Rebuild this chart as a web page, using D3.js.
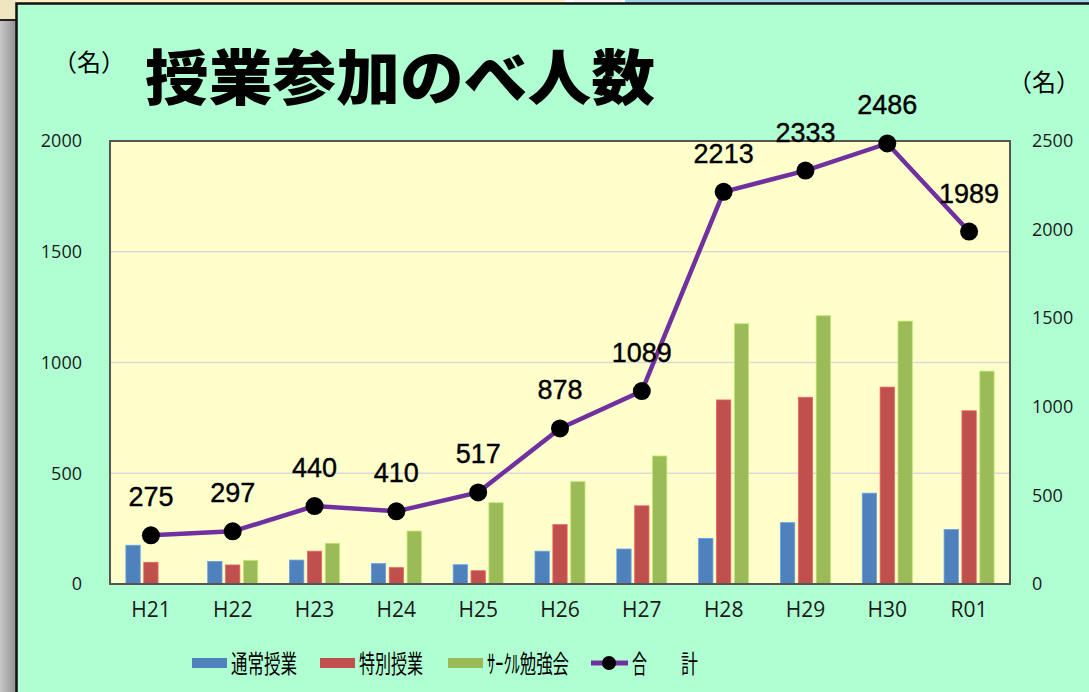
<!DOCTYPE html>
<html>
<head>
<meta charset="utf-8">
<script src="https://cdn.jsdelivr.net/npm/d3@7"></script>
<style>
  html, body { margin: 0; padding: 0; background: #fff; overflow: hidden; }
  svg { display: block; }
</style>
</head>
<body>
<div id="chart"></div>
<script>
// 年度
const years = ["H21", "H22", "H23", "H24", "H25", "H26", "H27", "H28", "H29", "H30", "R01"];
// 棒グラフ（左軸）
const regular = [175, 102, 108, 92, 87, 148, 158, 206, 277, 410, 246];
const special = [98, 86, 148, 74, 60, 268, 353, 831, 843, 889, 782];
const circle = [0, 107, 184, 239, 367, 462, 578, 1175, 1211, 1187, 961];
// 合計（右軸）
const totals = [275, 297, 440, 410, 517, 878, 1089, 2213, 2333, 2486, 1989];
const leftTicks = [0, 500, 1000, 1500, 2000];
const rightTicks = [0, 500, 1000, 1500, 2000, 2500];

const seriesNames = ["通常授業", "特別授業", "ｻｰｸﾙ勉強会"];
const seriesColors = ["#4F81BD", "#C0504D", "#9BBB59"];
const lineColor = "#7030A0";

const width = 1089, height = 692;
const plot = { left: 110, right: 1010, top: 141, bottom: 584 };

const svg = d3.select("#chart").append("svg")
    .attr("width", width)
    .attr("height", height);

// 背景（周りのウィンドウ）
svg.append("rect").attr("x", 0).attr("y", 0).attr("width", 565).attr("height", 3).attr("fill", "#FFF2C0");
svg.append("rect").attr("x", 574).attr("y", 0).attr("width", 48).attr("height", 3).attr("fill", "#F4F4F4");
svg.append("rect").attr("x", 625).attr("y", 0).attr("width", 464).attr("height", 3).attr("fill", "#9ED6EE");
const grad = svg.append("defs").append("linearGradient").attr("id", "shade");
grad.append("stop").attr("offset", "0%").attr("stop-color", "#C8C8C8");
grad.append("stop").attr("offset", "100%").attr("stop-color", "#909090");
svg.append("rect").attr("x", 0).attr("y", 20).attr("width", 16).attr("height", height).attr("fill", "url(#shade)");
svg.append("rect").attr("x", 0).attr("y", 0).attr("width", 16).attr("height", 20).attr("fill", "#EFE6C0");
svg.append("line").attr("x1", 0).attr("x2", 16).attr("y1", 20).attr("y2", 20).attr("stroke", "#222").attr("stroke-width", 2);

// パネル
svg.append("rect")
    .attr("x", 16.5).attr("y", 3.5)
    .attr("width", width).attr("height", height)
    .attr("fill", "#B0FFD2")
    .attr("stroke", "#111").attr("stroke-width", 2.5);

// プロットエリア
svg.append("rect")
    .attr("x", plot.left).attr("y", plot.top)
    .attr("width", plot.right - plot.left).attr("height", plot.bottom - plot.top)
    .attr("fill", "#FFFFCC");

const x = d3.scaleBand().domain(years).range([plot.left, plot.right]);
const xInner = d3.scaleBand().domain(d3.range(3)).range([0, 50]).paddingInner(0.2);
const yL = d3.scaleLinear().domain([0, 2000]).range([plot.bottom, plot.top]);
const yR = d3.scaleLinear().domain([0, 2500]).range([plot.bottom, plot.top]);

// グリッド
svg.append("g").selectAll("line")
    .data([500, 1000, 1500])
    .enter().append("line")
    .attr("x1", plot.left).attr("x2", plot.right)
    .attr("y1", d => yL(d)).attr("y2", d => yL(d))
    .attr("stroke", "#D9D9D9").attr("stroke-width", 1.5);

// 棒
const series = [regular, special, circle];
series.forEach((vals, si) => {
    svg.append("g").selectAll("rect")
        .data(vals)
        .enter().append("rect")
        .attr("x", (d, i) => x(years[i]) + x.bandwidth() / 2 - 25 + xInner(si))
        .attr("y", d => yL(d))
        .attr("width", xInner.bandwidth())
        .attr("height", d => plot.bottom - yL(d))
        .attr("fill", seriesColors[si])
        .attr("stroke", d3.color(seriesColors[si]).brighter(0.6))
        .attr("stroke-width", d => d > 0 ? 0.8 : 0);
});

// 枠
svg.append("rect")
    .attr("x", plot.left).attr("y", plot.top)
    .attr("width", plot.right - plot.left).attr("height", plot.bottom - plot.top)
    .attr("fill", "none").attr("stroke", "#555").attr("stroke-width", 2);

// 合計の折れ線
const line = d3.line()
    .x((d, i) => x(years[i]) + x.bandwidth() / 2)
    .y(d => yR(d));
svg.append("path")
    .datum(totals)
    .attr("d", line)
    .attr("fill", "none")
    .attr("stroke", lineColor)
    .attr("stroke-width", 4.5);
svg.append("g").selectAll("circle")
    .data(totals)
    .enter().append("circle")
    .attr("cx", (d, i) => x(years[i]) + x.bandwidth() / 2)
    .attr("cy", d => yR(d))
    .attr("r", 9)
    .attr("fill", "#000");
svg.append("g").selectAll("text")
    .data(totals)
    .enter().append("text")
    .attr("x", (d, i) => x(years[i]) + x.bandwidth() / 2)
    .attr("y", d => yR(d) - 29)
    .attr("text-anchor", "middle")
    .style("font-family", "'Liberation Sans', Arial, sans-serif")
    .style("font-size", "27px")
    .style("stroke", "#000").style("stroke-width", 0.4)
    .style("fill", "#000")
    .text(d => d);

// 軸
const axisFont = "'Open Sans', 'Liberation Sans', sans-serif";
const gL = svg.append("g")
    .attr("transform", `translate(${plot.left},0)`)
    .call(d3.axisLeft(yL).tickValues(leftTicks).tickFormat(d3.format("d")).tickSize(0).tickPadding(28));
const gR = svg.append("g")
    .attr("transform", `translate(${plot.right},0)`)
    .call(d3.axisRight(yR).tickValues(rightTicks).tickFormat(d3.format("d")).tickSize(0).tickPadding(22));
const gX = svg.append("g")
    .attr("transform", `translate(0,${plot.bottom})`)
    .call(d3.axisBottom(x).tickSize(0).tickPadding(18));
[gL, gR, gX].forEach(g => {
    g.select(".domain").remove();
    g.selectAll("text").style("font-family", axisFont).style("fill", "#1a1a1a");
});
gL.selectAll("text").style("font-size", "18px");
gR.selectAll("text").style("font-size", "18px");
gX.selectAll("text").style("font-size", "21px");

// タイトル・単位
const jp = "'Noto Sans CJK JP', sans-serif";
svg.append("text")
    .attr("x", 145).attr("y", 100)
    .attr("textLength", 510).attr("lengthAdjust", "spacingAndGlyphs")
    .style("font-family", jp).style("font-weight", 900).style("font-size", "60px")
    .text("授業参加のべ人数");
svg.append("text")
    .attr("x", 89).attr("y", 71).attr("text-anchor", "middle")
    .style("font-family", jp).style("font-size", "24px")
    .text("（名）");
svg.append("text")
    .attr("x", 1044).attr("y", 91).attr("text-anchor", "middle")
    .style("font-family", jp).style("font-size", "24px")
    .text("（名）");

// 凡例
const legend = svg.append("g").attr("transform", "translate(0,663)");
const legendX = [192, 320, 448];
const legendW = [66, 64, 82];
seriesNames.forEach((name, i) => {
    legend.append("rect")
        .attr("x", legendX[i]).attr("y", -5)
        .attr("width", 35).attr("height", 10)
        .attr("fill", seriesColors[i]);
    legend.append("text")
        .attr("x", legendX[i] + 39).attr("y", 10)
        .attr("textLength", legendW[i]).attr("lengthAdjust", "spacingAndGlyphs")
        .style("font-family", jp).style("font-size", "25px")
        .text(name);
});
legend.append("line")
    .attr("x1", 591).attr("x2", 628).attr("y1", 0).attr("y2", 0)
    .attr("stroke", lineColor).attr("stroke-width", 5);
legend.append("circle").attr("cx", 609).attr("cy", 0).attr("r", 7).attr("fill", "#000");
legend.append("text")
    .attr("x", 632).attr("y", 10)
    .attr("textLength", 15).attr("lengthAdjust", "spacingAndGlyphs")
    .style("font-family", jp).style("font-size", "25px")
    .text("合");
legend.append("text")
    .attr("x", 681).attr("y", 10)
    .attr("textLength", 17).attr("lengthAdjust", "spacingAndGlyphs")
    .style("font-family", jp).style("font-size", "25px")
    .text("計");
</script>
</body>
</html>
